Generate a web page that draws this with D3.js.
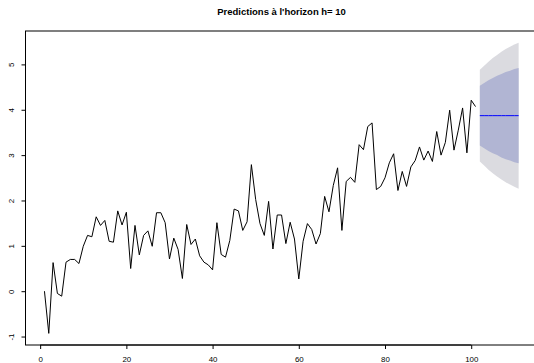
<!DOCTYPE html>
<html>
<head>
<meta charset="utf-8">
<script src="https://cdn.jsdelivr.net/npm/d3@7"></script>
<style>
  html, body { margin: 0; padding: 0; background: #ffffff; }
  svg { display: block; font-family: "Liberation Sans", Arial, Helvetica, sans-serif; }
</style>
</head>
<body>
<svg id="chart" width="534" height="363"></svg>
<script>
// Observed series (t = 1..101)
const series = [
  0.00, -0.93, 0.63, -0.05, -0.11, 0.64, 0.70, 0.70, 0.61, 0.99,
  1.23, 1.20, 1.64, 1.45, 1.56, 1.10, 1.08, 1.77, 1.46, 1.74,
  0.50, 1.45, 0.80, 1.23, 1.33, 0.99, 1.73, 1.73, 1.51, 0.71,
  1.17, 0.92, 0.28, 1.47, 1.03, 1.15, 0.78, 0.64, 0.58, 0.47,
  1.51, 0.81, 0.75, 1.12, 1.81, 1.77, 1.34, 1.53, 2.79, 2.02,
  1.49, 1.23, 1.98, 0.93, 1.68, 1.68, 1.05, 1.52, 1.15, 0.27,
  1.10, 1.49, 1.36, 1.04, 1.27, 2.09, 1.75, 2.33, 2.72, 1.34,
  2.42, 2.51, 2.40, 3.23, 3.12, 3.63, 3.71, 2.24, 2.31, 2.50,
  2.83, 3.03, 2.22, 2.64, 2.31, 2.74, 2.88, 3.18, 2.89, 3.09,
  2.86, 3.52, 3.00, 3.28, 3.99, 3.11, 3.55, 4.04, 3.05, 4.21,
  4.07
];

// Forecast for h = 1..10 (t = 102..111)
const horizon = [1, 2, 3, 4, 5, 6, 7, 8, 9, 10];
const fcMean = [3.87, 3.87, 3.87, 3.87, 3.87, 3.87, 3.87, 3.87, 3.87, 3.87];
const lo80 = [3.21, 3.15, 3.09, 3.04, 3.00, 2.95, 2.91, 2.88, 2.84, 2.82];
const hi80 = [4.53, 4.59, 4.65, 4.70, 4.75, 4.79, 4.83, 4.86, 4.90, 4.92];
const lo95 = [2.86, 2.77, 2.68, 2.60, 2.53, 2.46, 2.40, 2.35, 2.30, 2.26];
const hi95 = [4.88, 4.97, 5.06, 5.14, 5.21, 5.28, 5.34, 5.39, 5.44, 5.48];

const xTicks = [0, 20, 40, 60, 80, 100];
const yTicks = [-1, 0, 1, 2, 3, 4, 5];
const yTickLabels = ["-1", "0", "1", "2", "3", "4", "5"];
const title = "Predictions à l'horizon h= 10";

const n = series.length;
const obs = series.map((v, i) => ({ t: i + 1, v }));
const fc = horizon.map((h, i) => ({
  t: n + h, mean: fcMean[i], lo80: lo80[i], hi80: hi80[i], lo95: lo95[i], hi95: hi95[i]
}));

// Plot region and scales (axis ranges padded by 4% like base R graphics)
const plot = { left: 25.5, right: 537.6, top: 31, bottom: 345 };
const tMin = 1, tMax = n + horizon.length;
const tPad = (tMax - tMin) * 0.04;
const vMin = d3.min([d3.min(series), d3.min(lo95)]);
const vMax = d3.max([d3.max(series), d3.max(hi95)]);
const vPad = (vMax - vMin) * 0.04;

const x = d3.scaleLinear().domain([tMin - tPad, tMax + tPad]).range([plot.left, plot.right]);
const y = d3.scaleLinear().domain([vMin - vPad, vMax + vPad]).range([plot.bottom, plot.top]);

const svg = d3.select("#chart");

// Prediction intervals
const area95 = d3.area().x(d => x(d.t)).y0(d => y(d.lo95)).y1(d => y(d.hi95));
const area80 = d3.area().x(d => x(d.t)).y0(d => y(d.lo80)).y1(d => y(d.hi80));
svg.append("path").datum(fc).attr("d", area95).attr("fill", "#dbdbe0");
svg.append("path").datum(fc).attr("d", area80).attr("fill", "#b1b5d3");

// Observed series
svg.append("path").datum(obs)
  .attr("d", d3.line().x(d => x(d.t)).y(d => y(d.v)))
  .attr("fill", "none").attr("stroke", "#000").attr("stroke-width", 1)
  .attr("stroke-linejoin", "round");

// Point forecast
svg.append("path").datum(fc)
  .attr("d", d3.line().x(d => x(d.t)).y(d => y(d.mean)))
  .attr("fill", "none").attr("stroke", "#0000ff").attr("stroke-width", 1);

// Axes
const xAxis = d3.axisBottom(x).tickValues(xTicks).tickSize(4).tickSizeOuter(0).tickPadding(5);
const gx = svg.append("g").attr("transform", `translate(0,${plot.bottom})`).call(xAxis);
gx.select(".domain").attr("d", `M${x(xTicks[0])},0H${x(xTicks[xTicks.length - 1])}`);
gx.selectAll("text").attr("font-size", 7.9).attr("fill", "#000").attr("font-family", null)
  .attr("dy", null).attr("y", 16.5);
gx.selectAll("line, path").attr("stroke", "#000");

const yAxis = d3.axisLeft(y).tickValues(yTicks).tickFormat((d, i) => yTickLabels[i])
  .tickSize(4).tickSizeOuter(0);
const gy = svg.append("g").attr("transform", `translate(${plot.left},0)`).call(yAxis);
gy.select(".domain").attr("d", `M0,${y(yTicks[0])}V${y(yTicks[yTicks.length - 1])}`);
gy.selectAll("line, path").attr("stroke", "#000");
gy.selectAll("text")
  .attr("font-size", 7.9).attr("fill", "#000").attr("font-family", null)
  .attr("x", null).attr("dy", null).attr("text-anchor", "middle")
  .attr("transform", "translate(-11.5,0) rotate(-90)");

// Plot box
svg.append("rect")
  .attr("x", plot.left).attr("y", plot.top)
  .attr("width", plot.right - plot.left).attr("height", plot.bottom - plot.top)
  .attr("fill", "none").attr("stroke", "#000").attr("stroke-width", 1);

// Title
svg.append("text")
  .attr("x", (plot.left + plot.right) / 2).attr("y", 15)
  .attr("text-anchor", "middle").attr("font-weight", "bold").attr("font-size", 9.5)
  .attr("fill", "#000").text(title);
</script>
</body>
</html>
